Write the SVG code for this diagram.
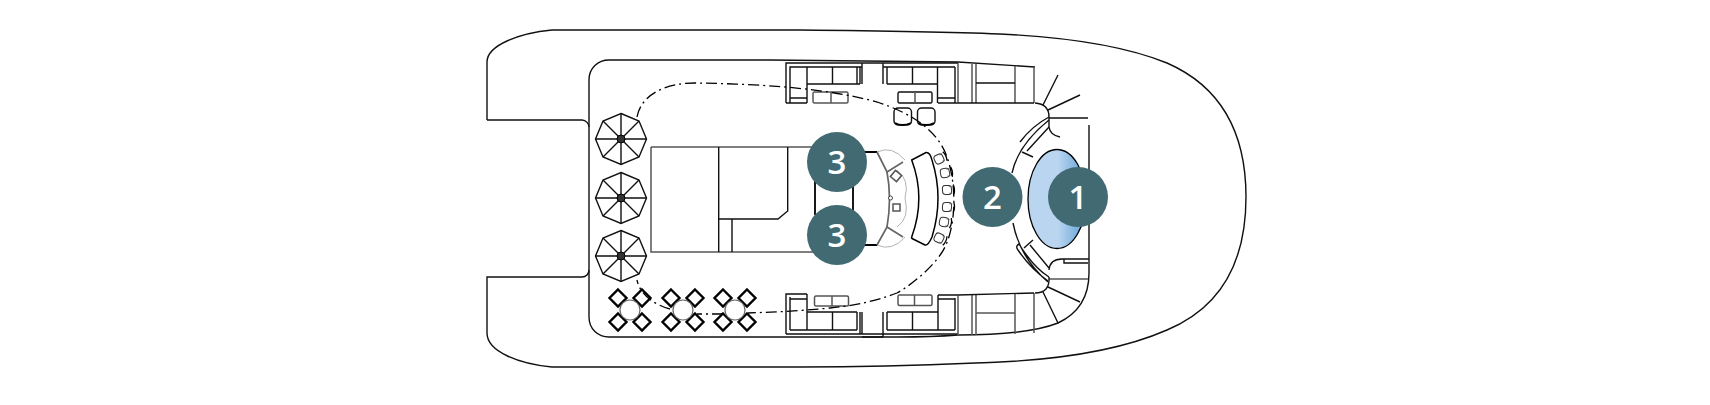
<svg xmlns="http://www.w3.org/2000/svg" width="1710" height="405" viewBox="0 0 1710 405">
<style>
.l{fill:none;stroke:#111;stroke-width:1.4}
.g{fill:none;stroke:#555;stroke-width:1.5}
.k{fill:none;stroke:#000;stroke-width:1.8}
.f{fill:none;stroke:#aaa;stroke-width:.9}
.m{fill:none;stroke:#666;stroke-width:1.7}
.d{fill:#426a72}
.t{fill:#fff;font-family:"Open Sans","Lato",sans-serif;font-size:33px;font-weight:600;text-anchor:middle}
.route{fill:none;stroke:#000;stroke-width:1.3;stroke-dasharray:11 4 2 4}
</style>
<defs>
<linearGradient id="pool" x1="0" x2="1" y1="0" y2="0">
<stop offset="0" stop-color="#b9d5f0"/><stop offset=".52" stop-color="#b9d5f0"/><stop offset="1" stop-color="#5f9fd6"/>
</linearGradient>
<g id="umb">
<path class="l" d="M0-25.500 18-18 25.500 0 18 18 0 25.500-18 18-25.500 0-18-18Z"/>
<path class="l" d="M0-25.500V25.500M-25.500 0H25.500M-18-18 18 18M-18 18 18-18"/>
<circle r="4" fill="#333" stroke="#000"/>
</g>
<path id="dia" d="M0-8.500 8.500 0 0 8.500-8.500 0Z" fill="#fff" stroke="#000" stroke-width="2.400"/>
<g id="cafe">
<use href="#dia" x="-12" y="-12"/><use href="#dia" x="12" y="-12"/><use href="#dia" x="-12" y="12"/><use href="#dia" x="12" y="12"/>
<circle r="10" fill="#fff" stroke="#666" stroke-width="1.200"/>
</g>
<g id="stool">
<rect x="-4.500" y="-4.500" width="9" height="9" rx="3" fill="#fff" stroke="#333" stroke-width="1"/>
<path d="M2-3.500H5M2 3.500H5" fill="none" stroke="#666" stroke-width=".8"/>
<path d="M6.500-5Q8.500 0 6.500 5" fill="none" stroke="#000" stroke-width="1.300"/>
</g>
</defs>

<g id="hull">
<path class="l" d="M487 120V62C487 45 520 33 552 30H800C900 31 950 32 1000 34C1085 38 1135 50 1167 63C1215 84 1246 125 1246 197C1246 269 1215 310 1167 330C1135 344 1085 358 1000 362C950 364 900 367 800 367H552C520 364 487 352 487 333V277H582C586 277 589 274 589 270"/>
<path class="l" d="M487 120H582C586 120 589 124 589 127"/>
</g>

<g id="deck">
<path class="l" d="M1035 67 958 62 770 60H609C598 60 589 68 589 80V317C589 329 598 337 609 337H898C925 337 945 336 958 335C1000 335 1035 332 1058 323C1075 315 1089 300 1089 273V125"/>
</g>

<g id="seating-top">
<path class="l" d="M786 103V63H958M790 103V67H862M790 98H807M807 67V103M807 84H860M832.500 67V84M857 67V84M786 103H807M860 67V84M862 63V84M883 63V84M887 67V84M883 67H955M887 84H938M912.500 67V84M937.500 67V103M955 67V103M938 98H955M938 103H958"/>
<path class="g" d="M958 63V103M972 64V103M976 64V103M1015 66V103M1034 67V103"/>
<path class="l" d="M976 83H1015M958 103H1034"/>
<rect class="g" x="813" y="92" width="35" height="11" rx="1.500"/><path class="g" d="M831 92V103"/>
<rect class="l" x="898" y="92" width="34" height="11" rx="1.500"/><path class="g" d="M915 92V103"/>
<rect class="l" x="894" y="108" width="17.500" height="17" rx="4"/><path class="k" d="M895 123Q902 127 911 123"/>
<rect class="l" x="917.500" y="108" width="17.500" height="17" rx="4"/><path class="k" d="M918 123Q926 127 934 123"/>
</g>

<g id="seating-bottom">
<path class="l" d="M786 334V294H807M790 330V297M790 299H807M807 294V330M807 312H857M832.500 312V330M857 312V330M786 334H958M790 330H857M860 312V334M862 312V334M883 312V337M862 337H883M887 312V330M887 330H955M887 312H938M912.500 312V330M938 295V330M955 298V330M938 299H955M938 295H958"/>
<path class="g" d="M958 295V335M972 295V335M976 295V335M1015 294V334M1034 293V333"/>
<path class="l" d="M958 295L1034 293"/>
<path class="g" d="M976 313H1015"/>
<rect class="g" x="814.500" y="296" width="34" height="10" rx="1.500"/><path class="g" d="M832 296V306"/>
<rect class="g" x="898" y="295" width="34" height="10.500" rx="1.500"/><path class="g" d="M914.500 295V305.500"/>
</g>

<g id="stern-arc">
<path class="l" d="M1035 103Q1049 104 1049 117V127Q1050 135 1060 137M1043 105 1058 75M1048 110 1080 95M1049 118H1088"/>
<path class="l" d="M1020 142Q1032 126 1049 117M1012 173Q1018 145 1049 120M1027 151 1049 127M1022 152 1033 157"/>
<path class="l" d="M1013 223Q1020 258 1048 282M1018 250Q1015 246 1019 244 1034 268 1049 277M1018 250Q1030 268 1048 281M1030 245 1049 268M1024 248 1033 240"/>
<path class="l" d="M1049 270Q1050 259 1062 259H1089M1064 259V263H1088"/>
<path class="g" d="M1049 279H1088"/>
<path class="l" d="M1049 277Q1050 293 1035 293M1043 292 1058 323M1048 287 1080 302"/>
</g>

<g id="pool-shape">
<ellipse cx="1057" cy="199" rx="29" ry="49.500" fill="url(#pool)" stroke="#000" stroke-width="1.300"/>
</g>

<g id="umbrellas">
<use href="#umb" x="621" y="139"/>
<use href="#umb" x="621" y="198"/>
<use href="#umb" x="621" y="256"/>
</g>

<g id="centre-block">
<path class="g" d="M651 147H815M651 147V252H815"/>
<path class="l" d="M718.700 147V252M787.700 147V211L778 219H718.700M732 219V252"/>
<path class="k" d="M815 175V215M853 175V215"/>
<path class="k" d="M853 152H877M853 245H877"/>
</g>

<g id="bar">
<path class="f" d="M877 152Q892 145 905 160M877 245Q892 252 905 237M897 170Q910 180 905 198 910 218 897 227"/>
<path class="m" d="M877 152 887 172 903 162M877 245 887 227 903 237"/>
<path class="m" d="M887 172Q892 198 887 227"/>
<circle cx="890.500" cy="198" r="2" fill="#fff" stroke="#333" stroke-width=".9"/>
<rect class="g" x="892" y="172" width="8" height="8" transform="rotate(40 896 176)"/>
<rect class="g" x="893" y="204" width="7" height="7"/>
<path d="M911.700 160 926 152.500Q930 152 932 160 944 198 932 237 928 246 925 245L913 239Q911 238 911.700 237 926 198 911.700 160Z" fill="#fff" stroke="#000" stroke-width="1.500"/>
<use href="#stool" transform="translate(939 159) rotate(-25)"/>
<use href="#stool" transform="translate(945 173) rotate(-10)"/>
<use href="#stool" transform="translate(947 190) rotate(-4)"/>
<use href="#stool" transform="translate(947 207) rotate(4)"/>
<use href="#stool" transform="translate(944 222) rotate(10)"/>
<use href="#stool" transform="translate(939 238) rotate(25)"/>
</g>

<g id="cafe-tables">
<use href="#cafe" x="630" y="310"/>
<use href="#cafe" x="683" y="310"/>
<use href="#cafe" x="735" y="310"/>
</g>

<g id="connectors">
<path class="route" d="M637 117C641 95 665 83 695 83C760 84 830 88 880 103C910 113 938 130 947 157C956 182 957 222 945 247C938 262 915 283 897 293C870 303 850 306 830 308C800 311 775 312 748 313"/>
<path class="route" d="M723 314H697"/>
<path class="route" d="M670 309C655 305 640 295 637 280"/>
</g>

<g id="badge-1"><circle class="d" cx="1078" cy="197" r="30"/><text class="t" x="1078" y="209">1</text></g>
<g id="badge-2"><circle class="d" cx="992.500" cy="197" r="30"/><text class="t" x="992.500" y="209">2</text></g>
<g id="badge-3a"><circle class="d" cx="837" cy="162" r="30"/><text class="t" x="837" y="174">3</text></g>
<g id="badge-3b"><circle class="d" cx="837" cy="235" r="30"/><text class="t" x="837" y="247">3</text></g>
</svg>
